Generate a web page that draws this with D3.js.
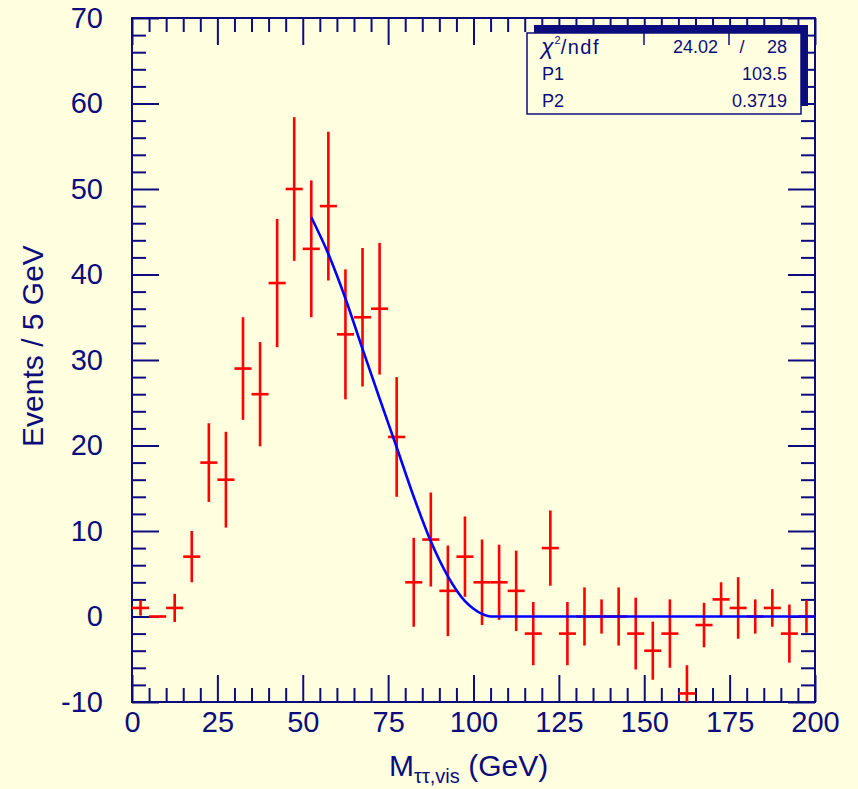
<!DOCTYPE html>
<html>
<head>
<meta charset="utf-8">
<script src="https://cdn.jsdelivr.net/npm/d3@7"></script>
<style>
  body { margin: 0; background: #ffffe0; }
  text { font-family: "Liberation Sans", Arial, Helvetica, sans-serif; fill: #0c0c7c; }
</style>
</head>
<body>
<div id="plot"></div>
<script>
// bin centres (5 GeV bins), contents and errors
const binCenters = [2.5, 7.5, 12.5, 17.5, 22.5, 27.5, 32.5, 37.5, 42.5, 47.5,
  52.5, 57.5, 62.5, 67.5, 72.5, 77.5, 82.5, 87.5, 92.5, 97.5,
  102.5, 107.5, 112.5, 117.5, 122.5, 127.5, 132.5, 137.5, 142.5, 147.5,
  152.5, 157.5, 162.5, 167.5, 172.5, 177.5, 182.5, 187.5, 192.5, 197.5]
const counts = [1, 0, 1, 7, 18, 16, 29, 26, 39, 50,
  43, 48, 33, 35, 36, 21, 4, 9, 3, 7,
  4, 4, 3, -2, 8, -2, 0, 0, 0, -2,
  -4, -2, -9, -1, 2, 1, 0, 1, -2, 0]
const errors = [0.9, 0, 1.65, 3, 4.6, 5.6, 6, 6.1, 7.5, 8.4,
  8, 8.7, 7.6, 8.1, 7.7, 7, 5.2, 5.5, 5.3, 4.7,
  5, 4.4, 4.7, 3.7, 4.4, 3.7, 3.4, 2, 3.4, 4.2,
  3.4, 4, 3.3, 2.6, 2, 3.6, 2, 2.2, 3.4, 1.9]
const binWidth = 5

// fitted curve
const fitX = [52.5, 57.5, 62.5, 67.5, 72.5, 77.5, 82.5, 87.5, 92.5, 97.5, 100, 102.5, 105, 200]
const fitY = [46.7, 42.4, 37.2, 31.3, 25.5, 19.8, 14.0, 8.8, 4.7, 1.8, 0.9, 0.3, 0, 0]

const xMajor = [0, 25, 50, 75, 100, 125, 150, 175, 200]
const yMajor = [-10, 0, 10, 20, 30, 40, 50, 60, 70]

const statRows = [["P1", "103.5"], ["P2", "0.3719"]]
const chiValue = "24.02"
const ndfValue = "28"

const W = 858, H = 789
const margin = {top: 18, right: 43, bottom: 87, left: 132}
const navy = "#0c0c7c"

const x = d3.scaleLinear().domain([0, 200]).range([margin.left, W - margin.right])
const y = d3.scaleLinear().domain([-10, 70]).range([H - margin.bottom, margin.top])

const svg = d3.select("#plot").append("svg")
  .attr("width", W)
  .attr("height", H)

svg.append("rect").attr("width", W).attr("height", H).attr("fill", "#ffffe0")

svg.append("defs").append("clipPath").attr("id", "clip")
  .append("rect")
  .attr("x", x(0)).attr("y", y(70))
  .attr("width", x(200) - x(0)).attr("height", y(-10) - y(70))

// minor tick positions
const xMinor = d3.range(0, 201, 5).filter(v => v % 25 !== 0)
const yMinor = d3.range(-10, 71, 2).filter(v => v % 10 !== 0)

const styleAxis = g => {
  g.select(".domain").remove()
  g.selectAll("line").attr("stroke", navy).attr("stroke-width", 2)
}
const plain = d => String(d)   // keep the ascii hyphen like the original

// bottom axis with labels
svg.append("g")
  .attr("transform", `translate(0,${y(-10)})`)
  .call(d3.axisBottom(x).tickValues(xMajor).tickSize(-27).tickPadding(9).tickFormat(plain))
  .call(styleAxis)
  .selectAll("text").attr("font-size", 29).attr("fill", navy)
svg.append("g")
  .attr("transform", `translate(0,${y(-10)})`)
  .call(d3.axisBottom(x).tickValues(xMinor).tickSize(-14).tickFormat(""))
  .call(styleAxis)

// top axis ticks
svg.append("g")
  .attr("transform", `translate(0,${y(70)})`)
  .call(d3.axisTop(x).tickValues(xMajor).tickSize(-27).tickFormat(""))
  .call(styleAxis)
svg.append("g")
  .attr("transform", `translate(0,${y(70)})`)
  .call(d3.axisTop(x).tickValues(xMinor).tickSize(-14).tickFormat(""))
  .call(styleAxis)

// left axis with labels
svg.append("g")
  .attr("transform", `translate(${x(0)},0)`)
  .call(d3.axisLeft(y).tickValues(yMajor).tickSize(-27).tickPadding(29).tickFormat(plain))
  .call(styleAxis)
  .selectAll("text").attr("font-size", 29).attr("fill", navy)
svg.append("g")
  .attr("transform", `translate(${x(0)},0)`)
  .call(d3.axisLeft(y).tickValues(yMinor).tickSize(-14).tickFormat(""))
  .call(styleAxis)

// right axis ticks
svg.append("g")
  .attr("transform", `translate(${x(200)},0)`)
  .call(d3.axisRight(y).tickValues(yMajor).tickSize(-27).tickFormat(""))
  .call(styleAxis)
svg.append("g")
  .attr("transform", `translate(${x(200)},0)`)
  .call(d3.axisRight(y).tickValues(yMinor).tickSize(-14).tickFormat(""))
  .call(styleAxis)

// frame
svg.append("rect")
  .attr("x", x(0)).attr("y", y(70))
  .attr("width", x(200) - x(0)).attr("height", y(-10) - y(70))
  .attr("fill", "none").attr("stroke", navy).attr("stroke-width", 2)

// data points with error bars
const points = binCenters.map((c, i) => ({x: c, v: counts[i], e: errors[i]}))
const pts = svg.append("g").attr("clip-path", "url(#clip)")
  .attr("stroke", "#ff0000").attr("stroke-width", 2.6)

pts.selectAll("line.h").data(points).join("line")
  .attr("class", "h")
  .attr("x1", d => x(d.x - binWidth / 2)).attr("x2", d => x(d.x + binWidth / 2))
  .attr("y1", d => y(d.v)).attr("y2", d => y(d.v))

pts.selectAll("line.v").data(points.filter(d => d.e > 0)).join("line")
  .attr("class", "v")
  .attr("x1", d => x(d.x)).attr("x2", d => x(d.x))
  .attr("y1", d => y(d.v - d.e)).attr("y2", d => y(d.v + d.e))

// fit curve
const line = d3.line()
  .curve(d3.curveMonotoneX)
  .x(d => x(d[0]))
  .y(d => y(d[1]))

svg.append("path")
  .datum(fitX.map((v, i) => [v, fitY[i]]))
  .attr("d", line)
  .attr("fill", "none")
  .attr("stroke", "#0000ff")
  .attr("stroke-width", 2.6)
  .attr("clip-path", "url(#clip)")

// stats box
const box = {x: 527, y: 33, w: 274, h: 81}
svg.append("rect")
  .attr("x", box.x + 7).attr("y", box.y - 8)
  .attr("width", box.w).attr("height", box.h)
  .attr("fill", navy)
svg.append("rect")
  .attr("x", box.x).attr("y", box.y)
  .attr("width", box.w).attr("height", box.h)
  .attr("fill", "#ffffe0").attr("stroke", navy).attr("stroke-width", 1.5)

svg.append("line").attr("x1", 644).attr("x2", 644).attr("y1", box.y).attr("y2", box.y + 12)
  .attr("stroke", navy).attr("stroke-width", 1.5)
svg.append("line").attr("x1", 729).attr("x2", 729).attr("y1", box.y).attr("y2", box.y + 12)
  .attr("stroke", navy).attr("stroke-width", 1.5)

const chi = svg.append("text").attr("x", 541).attr("y", 54).attr("font-size", 23)
chi.append("tspan").attr("font-style", "italic").text("χ")
chi.append("tspan").attr("dx", 1).attr("dy", -10).attr("font-size", 11).text("2")
chi.append("tspan").attr("dx", 0).attr("dy", 10).attr("font-size", 20)
  .attr("letter-spacing", 1.5).text("/ndf")

svg.append("text").attr("x", 718).attr("y", 53).attr("font-size", 18)
  .attr("text-anchor", "end").text(chiValue)
svg.append("text").attr("x", 742).attr("y", 53).attr("font-size", 18)
  .attr("text-anchor", "middle").text("/")
svg.append("text").attr("x", 787).attr("y", 53).attr("font-size", 18)
  .attr("text-anchor", "end").text(ndfValue)

statRows.forEach((r, i) => {
  const by = 80 + i * 27
  svg.append("text").attr("x", 542).attr("y", by).attr("font-size", 18).text(r[0])
  svg.append("text").attr("x", 787).attr("y", by).attr("font-size", 18)
    .attr("text-anchor", "end").text(r[1])
})

// axis titles
const xt = svg.append("text").attr("x", 389).attr("y", 776).attr("font-size", 30)
xt.append("tspan").text("M")
xt.append("tspan").attr("dy", 7).attr("font-size", 20).text("ττ,vis")
xt.append("tspan").attr("dy", -7).text(" (GeV)")

svg.append("text")
  .attr("transform", `translate(43,346) rotate(-90)`)
  .attr("text-anchor", "middle")
  .attr("font-size", 30)
  .text("Events / 5 GeV")
</script>
</body>
</html>
